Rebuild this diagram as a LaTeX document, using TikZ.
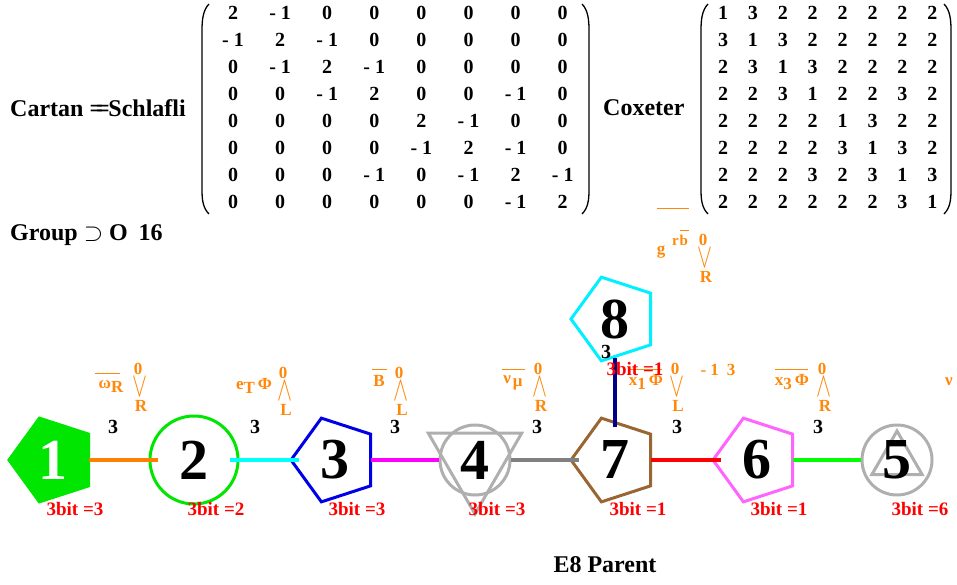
\documentclass[tikz,border=0pt]{standalone}
\usepackage{fontspec}
\setmainfont{Liberation Serif}
\usetikzlibrary{shapes.geometric,calc}
\definecolor{ora}{RGB}{255,136,10}
\definecolor{oral}{RGB}{255,128,0}
\definecolor{grn}{RGB}{0,230,0}
\definecolor{lgrn}{RGB}{0,255,0}
\definecolor{brn}{RGB}{153,102,51}
\definecolor{mag}{RGB}{255,0,255}
\definecolor{pnk}{RGB}{255,100,255}
\definecolor{gry}{RGB}{128,128,128}
\definecolor{lgry}{RGB}{175,175,175}
\definecolor{nvy}{RGB}{0,0,140}
\definecolor{cyn}{RGB}{0,240,255}
\definecolor{cynl}{RGB}{0,255,255}
\definecolor{blu}{RGB}{0,0,230}
\newcommand\fsz[1]{\fontsize{#1}{#1}\selectfont\bfseries}
\newcommand\ovee{\scalebox{1.3}[2.0]{$\vee$}}
\newcommand\owedge{\scalebox{1.3}[2.0]{$\wedge$}}
\newcommand\orstack[5]{%
  \node[orl] (#1-z) at (#2,#3) {0};
  \node[orl] (#1-s) at ($(#1-z)+(2,18)$) {#4};
  \node[orl] (#1-l) at ($(#1-z)+(3,37)$) {#5};
}
\begin{document}
\begin{tikzpicture}[x=1pt,y=-1pt,
  pent/.style={regular polygon, regular polygon sides=5, shape border rotate=90, minimum size=88pt, inner sep=0pt, line width=3pt},
  ring/.style={circle, minimum size=88pt, inner sep=0pt, line width=3pt},
  num/.style={font=\fsz{58}},
  edgelbl/.style={font=\fsz{20}, inner sep=0pt},
  bit/.style={font=\fsz{19}, text=red, inner sep=0pt},
  orl/.style={font=\fsz{17}, text=ora, inner sep=0pt},
  conn/.style={line width=4pt, shorten <=36pt, shorten >=36pt},
  mat/.style={font=\fsz{20}, inner sep=0pt},
  lbl/.style={font=\fsz{24}, inner sep=0pt},
  paren/.style={line width=1.3pt},
  ovl/.style={draw=ora, line width=1pt},
]
\useasboundingbox (0,0) rectangle (957,585);

% ---- matrices
\node[lbl, anchor=west] (cartan) at (10,108) {Cartan =\kern-0.3em=\kern-0.05em Schlafli};
\foreach \r [count=\i] in {{2,-1,0,0,0,0,0,0},{-1,2,-1,0,0,0,0,0},{0,-1,2,-1,0,0,0,0},{0,0,-1,2,0,0,-1,0},{0,0,0,0,2,-1,0,0},{0,0,0,0,-1,2,-1,0},{0,0,0,-1,0,-1,2,-1},{0,0,0,0,0,0,-1,2}} {
  \foreach \v [count=\j] in \r {
    \node[mat] (ca-\i-\j) at ({233+47.1*(\j-1)},{13+27*(\i-1)}) {\ifnum\v<0 -\hspace{0.25em}1\else\v\fi};
  }
}
\draw[paren] (209,4) .. controls (203,10) and (202,20) .. (202,30) -- (202,190) .. controls (202,200) and (203,208) .. (209,214);
\draw[paren] (582,4) .. controls (588,10) and (589,20) .. (589,30) -- (589,190) .. controls (589,200) and (588,208) .. (582,214);

\node[lbl, anchor=west] (coxeter) at (603,108) {Coxeter};
\foreach \r [count=\i] in {{1,3,2,2,2,2,2,2},{3,1,3,2,2,2,2,2},{2,3,1,3,2,2,2,2},{2,2,3,1,2,2,3,2},{2,2,2,2,1,3,2,2},{2,2,2,2,3,1,3,2},{2,2,2,3,2,3,1,3},{2,2,2,2,2,2,3,1}} {
  \foreach \v [count=\j] in \r {
    \node[mat] (co-\i-\j) at ({723+29.9*(\j-1)},{13+27*(\i-1)}) {\v};
  }
}
\draw[paren] (708,4) .. controls (702,10) and (701,20) .. (701,30) -- (701,190) .. controls (701,200) and (702,208) .. (708,214);
\draw[paren] (944,4) .. controls (950,10) and (951,20) .. (951,30) -- (951,190) .. controls (951,200) and (950,208) .. (944,214);

\node[lbl, anchor=west] (group) at (10,235) {Group $\supset$ O\hspace{0.45em}16};

% ---- nodes
\node[pent, fill=grn, draw=grn, text=white, num] (n1) at (53,460) {1};
\node[ring, draw=grn, num] (n2) at (194,460) {2};
\node[pent, draw=blu, num] (n3) at (335,460) {3};
\node[regular polygon, regular polygon sides=3, shape border rotate=180, minimum size=108pt, inner sep=0pt, draw=lgry, line width=3pt] (n4t) at (475,460) {};
\node[circle, minimum size=70pt, inner sep=0pt, draw=lgry, line width=3pt, num] (n4) at (475,460) {4};
\node[pent, draw=brn, num] (n7) at (615,460) {7};
\node[pent, draw=pnk, num] (n6) at (757,460) {6};
\node[regular polygon, regular polygon sides=3, minimum size=58pt, inner sep=0pt, draw=lgry, line width=3pt] (n5t) at (897,460) {};
\node[circle, minimum size=70pt, inner sep=0pt, draw=lgry, line width=3pt, num] (n5) at (897,460) {5};
\node[pent, draw=cyn, num] (n8) at (615,319) {8};

% ---- connectors
\draw[conn, draw=oral] (n1.center) -- (n2.center);
\draw[conn, draw=cynl] (n2.center) -- (n3.center);
\draw[conn, draw=mag] (n3.center) -- (n4.center);
\draw[conn, draw=gry] (n4.center) -- (n7.center);
\draw[conn, draw=red] (n7.center) -- (n6.center);
\draw[conn, draw=lgrn] (n6.center) -- (n5.center);
\draw[conn, draw=nvy, shorten <=39pt, shorten >=33pt] (n8.center) -- (n7.center);

% ---- edge weights
\node[edgelbl] (w12) at (113,427) {3};
\node[edgelbl] (w23) at (255,427) {3};
\node[edgelbl] (w34) at (395,427) {3};
\node[edgelbl] (w47) at (537,427) {3};
\node[edgelbl] (w76) at (677,427) {3};
\node[edgelbl] (w65) at (818,427) {3};
\node[edgelbl] (w87) at (606,352) {3};

% ---- orange labels
\draw[ovl] (95,373) -- (120,373);
\node[orl] (m12) at (111,386) {ω\raisebox{-4pt}{R}};
\orstack{s12}{138}{369}{\ovee}{R}

\node[orl] (m23) at (254,386) {e\raisebox{-4pt}{T}\hspace{3pt}Φ};
\orstack{s23}{283}{373}{\owedge}{L}

\draw[ovl] (372,369) -- (387,369);
\node[orl] (m34) at (379,381) {B};
\orstack{s34}{399}{373}{\owedge}{L}

\draw[ovl] (502,369) -- (525,369);
\node[orl] (m47) at (513,383) {ν\hspace{2pt}\raisebox{-3pt}{μ}};
\orstack{s47}{538}{369}{\owedge}{R}

\draw[ovl] (628,369) -- (662,369);
\node[orl] (m76) at (646,382) {x\raisebox{-4pt}{1}\hspace{3pt}Φ};
\orstack{s76}{675}{369}{\ovee}{L}
\node[orl] (e76) at (718,370) {-\hspace{0.25em}1\hspace{8pt}3};

\draw[ovl] (775,369) -- (808,369);
\node[orl] (m65) at (792,382) {x\raisebox{-4pt}{3}\hspace{3pt}Φ};
\orstack{s65}{822}{369}{\owedge}{R}

\node[orl, anchor=west] (mr) at (945,382) {ν};

\draw[ovl] (657,209) -- (689,209);
\draw[ovl] (680,230) -- (689,230);
\node[orl] (g8) at (661,252) {g};
\node[orl, font=\fsz{15}] (g8s) at (680,240) {r\hspace{1pt}b};
\orstack{s8}{703}{240}{\ovee}{R}

% ---- bit labels
\node[bit] (b1) at (75,509) {3bit =3};
\node[bit] (b2) at (216,509) {3bit =2};
\node[bit] (b3) at (357,509) {3bit =3};
\node[bit] (b4) at (497,509) {3bit =3};
\node[bit] (b7) at (638,509) {3bit =1};
\node[bit] (b6) at (779,509) {3bit =1};
\node[bit] (b5) at (920,509) {3bit =6};
\node[bit] (b8) at (635,369) {3bit =1};

\node[lbl] (title) at (605,565) {E8 Parent};
\end{tikzpicture}
\end{document}
